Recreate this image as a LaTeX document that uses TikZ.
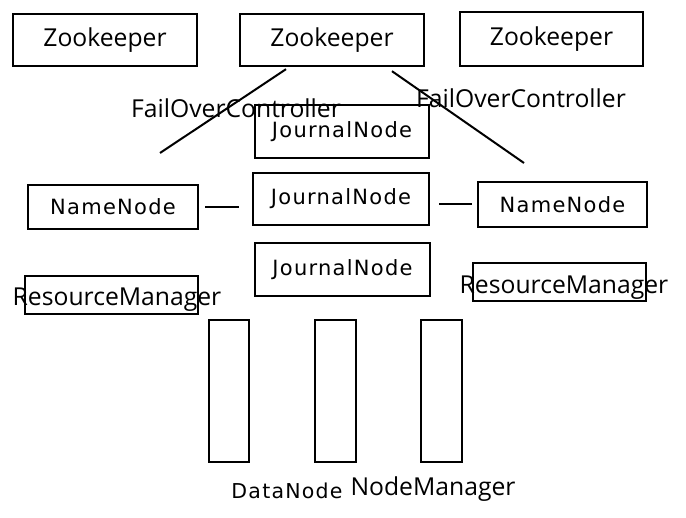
\documentclass[tikz,border=0pt]{standalone}
\usepackage{fontspec}
\setmainfont{Open Sans}
\newfontfamily\widefont[LetterSpace=6]{DejaVu Sans}
\tikzset{
  box/.style={draw, line width=2.4pt, inner sep=0pt},
  bigtext/.style={font=\fontsize{24.7}{26}\selectfont, inner sep=0pt},
  widetext/.style={font=\widefont\fontsize{21}{23}\selectfont},
  wire/.style={line width=2pt}
}
\begin{document}
\begin{tikzpicture}[x=1pt, y=-1pt]
    \useasboundingbox (0,0) rectangle (686,518);
    % Zookeeper
    \node[box, bigtext, minimum width=184pt, minimum height=52pt] (zk1) at (105,40) {Zookeeper};
    \node[box, bigtext, minimum width=184pt, minimum height=52pt] (zk2) at (332,40) {Zookeeper};
    \node[box, bigtext, minimum width=183pt, minimum height=54pt] (zk3) at (551.5,39) {Zookeeper};

    % FailOverController
    \coordinate (fcl) at (160,153);
    \coordinate (fcr) at (524,163);
    \draw[wire] ([xshift=-46pt, yshift=-2pt]zk2.south) -- (fcl);
    \draw[wire] ([xshift=60pt, yshift=-4pt]zk2.south) -- (fcr);
    \node[bigtext] (fol) at (236,108) {FailOverController};
    \node[bigtext] (for) at (521,98) {FailOverController};

    % JournalNode
    \node[box, widetext, minimum width=174pt, minimum height=53pt] (jn1) at (342,131.5) {JournalNode};
    \node[box, widetext, minimum width=176pt, minimum height=52pt] (jn2) at (341,199) {JournalNode};
    \node[box, widetext, minimum width=175pt, minimum height=53pt] (jn3) at (342.5,269.5) {JournalNode};

    % NameNode
    \node[box, widetext, minimum width=170pt, minimum height=44pt] (nnl) at (113,207) {NameNode};
    \node[box, widetext, minimum width=169pt, minimum height=45pt] (nnr) at (562.5,204.5) {NameNode};
    \draw[wire] ([xshift=6pt]nnl.east) -- ([xshift=-13pt]jn2.west |- nnl.east);
    \draw[wire] ([xshift=9pt]jn2.east |- nnr.west) -- ([xshift=-5pt]nnr.west);

    % ResourceManager
    \node[box, minimum width=173pt, minimum height=38pt] (rml) at (111.5,295) {};
    \node[box, minimum width=173pt, minimum height=38pt] (rmr) at (559.5,282) {};
    \node[bigtext] (rmlt) at (117,300) {ResourceManager};
    \node[bigtext] (rmrt) at (564,288) {ResourceManager};

    % DataNode / NodeManager
    \node[box, minimum width=40pt, minimum height=142pt] (dn1) at (229,391) {};
    \node[box, minimum width=41pt, minimum height=142pt] (dn2) at (335.5,391) {};
    \node[box, minimum width=41pt, minimum height=142pt] (dn3) at (441.5,391) {};
    \node[widetext, font=\widefont\fontsize{20.5}{22}\selectfont] (dnt) at (287,491) {DataNode};
    \node[bigtext] (nmt) at (433,489) {NodeManager};
\end{tikzpicture}
\end{document}
